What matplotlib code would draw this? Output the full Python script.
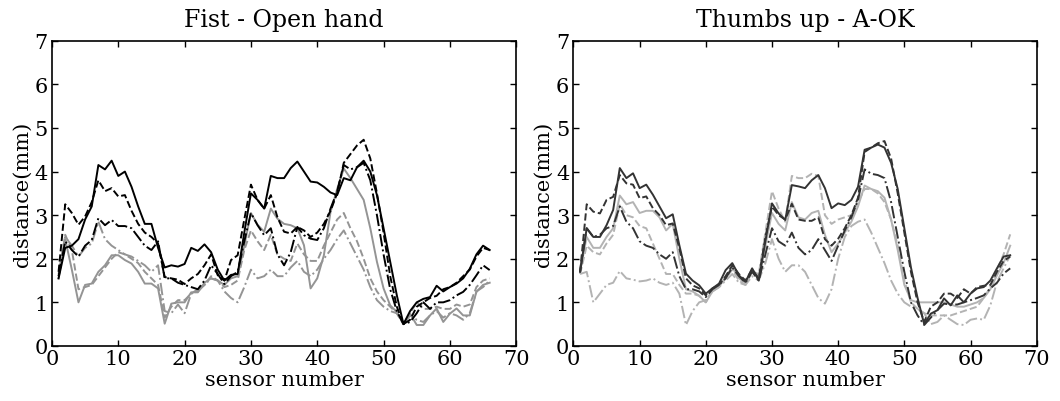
import numpy as np
import matplotlib
matplotlib.use('Agg')
import matplotlib.pyplot as plt

plt.rcParams['font.family'] = ['DejaVu Serif']

sensor = np.arange(1, 67)

# Fist - Open hand
fist_black_solid = [1.55, 2.25, 2.3, 2.45, 2.9, 3.2, 4.15, 4.05, 4.25, 3.9,
                    4.0, 3.65, 3.2, 2.8, 2.8, 2.25, 1.8, 1.85, 1.82, 1.88,
                    2.25, 2.18, 2.33, 2.15, 1.75, 1.5, 1.63, 1.65, 2.6, 3.5,
                    3.35, 3.15, 3.9, 3.85, 3.85, 4.08, 4.23, 4.0, 3.77, 3.75,
                    3.65, 3.52, 3.46, 3.85, 3.8, 4.1, 4.25, 4.0, 3.46, 2.7,
                    1.93, 1.16, 0.5, 0.8, 1.0, 1.08, 1.12, 1.38, 1.25, 1.35,
                    1.43, 1.55, 1.77, 2.1, 2.3, 2.2]
fist_black_dash = [1.7, 3.25, 3.05, 2.78, 2.97, 3.3, 3.8, 3.55, 3.62, 3.43,
                   3.46, 3.1, 2.8, 2.6, 2.5, 2.35, 1.58, 1.55, 1.52, 1.42,
                   1.55, 1.65, 1.85, 2.1, 1.62, 1.5, 1.97, 2.08, 2.9, 3.7,
                   3.35, 3.15, 3.46, 2.95, 2.62, 2.58, 2.73, 2.65, 2.5, 2.6,
                   2.8, 3.1, 3.5, 4.2, 4.4, 4.6, 4.73, 4.3, 3.5, 2.6,
                   1.6, 0.9, 0.5, 0.6, 0.9, 1.0, 1.1, 1.15, 1.3, 1.35,
                   1.45, 1.6, 1.75, 2.05, 2.25, 2.2]
fist_black_dashdot = [1.6, 2.4, 2.2, 2.05, 2.3, 2.43, 2.93, 2.77, 2.89, 2.75,
                      2.75, 2.7, 2.5, 2.3, 2.2, 2.4, 1.55, 1.55, 1.45, 1.4,
                      1.35, 1.3, 1.5, 1.85, 1.65, 1.42, 1.6, 1.7, 2.4, 3.05,
                      2.77, 2.54, 2.7, 2.1, 1.85, 2.15, 2.73, 2.54, 2.46, 2.43,
                      2.7, 3.15, 3.54, 4.15, 4.05, 4.1, 4.2, 3.8, 3.0, 2.1,
                      1.3, 0.8, 0.5, 0.55, 0.75, 1.0, 0.85, 1.0, 1.0, 1.05,
                      1.16, 1.24, 1.4, 1.62, 1.85, 1.74]
fist_gray_solid = [1.55, 2.45, 1.75, 1.0, 1.4, 1.43, 1.7, 1.85, 2.08, 2.08,
                   1.97, 1.89, 1.7, 1.43, 1.43, 1.32, 0.51, 0.97, 1.0, 1.0,
                   1.23, 1.23, 1.45, 1.55, 1.5, 1.4, 1.55, 1.6, 2.3, 3.05,
                   2.78, 2.62, 3.15, 2.92, 2.8, 2.77, 2.7, 2.31, 1.32, 1.55,
                   2.08, 3.07, 3.6, 4.07, 3.85, 3.6, 3.35, 2.7, 1.93, 1.32,
                   0.93, 0.78, 0.5, 0.74, 0.48, 0.48, 0.7, 0.86, 0.55, 0.74,
                   0.86, 0.7, 0.7, 1.24, 1.4, 1.45]
fist_gray_dash = [1.6, 2.55, 2.2, 1.3, 1.35, 1.4, 1.6, 1.8, 2.0, 2.15,
                  2.1, 2.0, 1.9, 1.7, 1.55, 1.4, 0.65, 0.9, 1.05, 1.05,
                  1.2, 1.3, 1.4, 1.6, 1.5, 1.35, 1.4, 1.5, 2.2, 2.65,
                  2.4, 2.2, 2.55, 2.1, 2.0, 1.95, 2.35, 2.1, 1.95, 1.95,
                  2.3, 2.6, 2.9, 3.05, 2.7, 2.4, 2.0, 1.55, 1.25, 1.05,
                  0.9, 0.75, 0.5, 0.75, 1.0, 0.85, 0.85, 0.9, 0.85, 0.85,
                  0.95, 0.9, 0.95, 1.35, 1.5, 1.55]
fist_gray_dashdot = [1.65, 2.5, 2.3, 2.05, 2.25, 2.35, 2.85, 2.45, 2.3, 2.2,
                     2.1, 2.05, 1.95, 1.85, 1.7, 1.85, 0.8, 0.75, 0.95, 0.75,
                     1.2, 1.25, 1.4, 1.55, 1.5, 1.25, 1.1, 1.0, 1.35, 1.75,
                     1.55, 1.6, 1.75, 1.6, 1.6, 1.8, 1.95, 1.7, 1.6, 1.75,
                     2.0, 2.2, 2.45, 2.65, 2.35, 2.05, 1.75, 1.35, 1.05, 0.9,
                     0.8, 0.75, 0.5, 0.7, 0.6, 0.55, 0.7, 0.8, 0.65, 0.75,
                     0.7, 0.6, 0.75, 1.25, 1.35, 1.5]

# Thumbs up - A-OK
thumb_dark_solid = [1.7, 2.7, 2.5, 2.5, 2.77, 3.12, 4.08, 3.85, 3.96, 3.62,
                    3.7, 3.47, 3.2, 2.93, 3.02, 2.31, 1.66, 1.5, 1.39, 1.2,
                    1.32, 1.43, 1.74, 1.9, 1.62, 1.47, 1.78, 1.5, 2.4, 3.27,
                    3.04, 2.89, 3.69, 3.66, 3.62, 3.8, 3.92, 3.62, 3.16, 3.27,
                    3.23, 3.35, 3.65, 4.5, 4.55, 4.62, 4.55, 4.2, 3.6, 2.7,
                    1.8, 1.1, 0.5, 0.74, 0.82, 1.09, 0.93, 1.16, 1.0, 1.2,
                    1.32, 1.35, 1.5, 1.78, 2.05, 2.08]
thumb_dark_dash = [1.7, 3.25, 3.08, 3.04, 3.35, 3.42, 3.92, 3.73, 3.7, 3.39,
                   3.43, 3.16, 3.0, 2.77, 2.81, 2.24, 1.55, 1.39, 1.32, 1.16,
                   1.32, 1.4, 1.6, 1.85, 1.65, 1.5, 1.75, 1.55, 2.5, 3.2,
                   3.0, 2.9, 3.26, 2.9, 2.87, 2.87, 2.95, 2.45, 2.3, 2.46,
                   2.7, 3.0, 3.4, 4.45, 4.55, 4.65, 4.7, 4.3, 3.5, 2.6,
                   1.7, 1.0, 0.55, 0.9, 1.0, 1.2, 1.2, 1.1, 1.3, 1.2,
                   1.35, 1.38, 1.4, 1.7, 1.95, 2.05]
thumb_dark_dashdot = [1.7, 2.7, 2.5, 2.55, 2.7, 2.75, 3.2, 2.85, 2.7, 2.4,
                      2.3, 2.25, 2.1, 2.0, 2.15, 1.6, 1.3, 1.3, 1.25, 1.12,
                      1.3, 1.4, 1.55, 1.8, 1.6, 1.45, 1.7, 1.5, 2.1, 2.7,
                      2.4, 2.3, 2.6, 2.25, 2.1, 2.2, 2.45, 2.2, 1.95, 2.3,
                      2.65, 2.95, 3.35, 4.05, 3.95, 3.92, 3.85, 3.3, 2.5, 1.7,
                      1.0, 0.7, 0.48, 0.65, 0.82, 0.97, 0.95, 0.95, 1.0, 1.05,
                      1.1, 1.16, 1.32, 1.45, 1.66, 1.78]
thumb_light_solid = [1.7, 2.5, 2.25, 2.25, 2.5, 2.7, 3.45, 3.25, 3.3, 3.05,
                     3.1, 3.1, 2.95, 2.65, 2.8, 2.0, 1.3, 1.25, 1.15, 1.0,
                     1.25, 1.35, 1.6, 1.8, 1.55, 1.45, 1.75, 1.6, 2.3, 3.05,
                     2.8, 2.65, 3.3, 2.95, 2.9, 3.05, 3.1, 2.55, 2.15, 2.35,
                     2.6, 2.85, 3.2, 3.68, 3.6, 3.55, 3.4, 2.9, 2.2, 1.4,
                     1.05, 1.0, 1.0, 1.0, 1.0, 1.0, 0.95, 0.9, 0.9, 0.95,
                     1.0, 1.1, 1.3, 1.62, 1.9, 2.3]
thumb_light_dash = [1.65, 2.3, 2.15, 2.1, 2.35, 2.55, 3.25, 3.0, 2.95, 2.75,
                    2.7, 2.35, 2.0, 1.65, 1.65, 1.4, 1.2, 1.2, 1.15, 1.0,
                    1.3, 1.35, 1.55, 1.75, 1.5, 1.4, 1.7, 1.65, 2.6, 3.55,
                    3.15, 2.85, 3.9, 3.85, 3.85, 3.95, 3.9, 3.0, 2.8, 2.9,
                    2.95, 3.0, 3.3, 3.6, 3.6, 3.5, 3.3, 2.9, 2.3, 1.5,
                    1.0, 0.85, 0.75, 0.7, 0.7, 0.7, 0.7, 0.75, 0.8, 0.85,
                    0.9, 1.1, 1.35, 1.75, 2.1, 2.56]
thumb_light_dashdot = [1.65, 1.7, 1.0, 1.2, 1.4, 1.45, 1.72, 1.55, 1.52, 1.48,
                       1.5, 1.55, 1.45, 1.4, 1.45, 1.2, 0.48, 0.8, 1.0, 1.05,
                       1.25, 1.35, 1.5, 1.65, 1.45, 1.4, 1.6, 1.5, 1.9, 2.45,
                       2.0, 1.7, 1.85, 1.85, 1.7, 1.4, 1.1, 0.97, 1.3, 2.0,
                       2.5, 2.75, 2.85, 2.9, 2.6, 2.25, 1.9, 1.5, 1.2, 1.0,
                       0.9, 0.85, 0.75, 0.5, 0.55, 0.7, 0.6, 0.5, 0.48, 0.6,
                       0.63, 0.6, 0.93, 1.47, 1.78, 2.08]

titles = ['Fist - Open hand', 'Thumbs up - A-OK']

fig = plt.figure(figsize=(10.6, 4.02), dpi=100)
ax1 = fig.add_axes([0.049, 0.137, 0.438, 0.759])
ax2 = fig.add_axes([0.541, 0.137, 0.437, 0.759])

panels = [
    (ax1, 'k', '0.58',
     [fist_black_solid, fist_black_dash, fist_black_dashdot],
     [fist_gray_solid, fist_gray_dash, fist_gray_dashdot]),
    (ax2, '0.2', '0.7',
     [thumb_dark_solid, thumb_dark_dash, thumb_dark_dashdot],
     [thumb_light_solid, thumb_light_dash, thumb_light_dashdot]),
]
styles = ['-', '--', '-.']

for (ax, dark, light, dark_sets, light_sets), title in zip(panels, titles):
    for vals, ls in zip(light_sets, styles):
        ax.plot(sensor, vals, color=light, linestyle=ls, linewidth=1.4)
    for vals, ls in zip(dark_sets, styles):
        ax.plot(sensor, vals, color=dark, linestyle=ls, linewidth=1.4)

    ax.set_xlim(0, 70)
    ax.set_ylim(0, 7)
    ax.set_xticks(range(0, 71, 10))
    ax.set_yticks(range(0, 8))
    ax.tick_params(direction='in', top=True, right=True, length=4, width=1,
                   labelsize=15)
    ax.tick_params(axis='x', pad=2)
    ax.tick_params(axis='y', pad=3)
    for sp in ax.spines.values():
        sp.set_linewidth(1.2)
    ax.set_title(title, fontsize=17, pad=11)
    ax.set_xlabel('sensor number', fontsize=15, labelpad=2)
    ax.set_ylabel('distance(mm)', fontsize=15, labelpad=2)

fig.savefig('out.png', dpi=100)
